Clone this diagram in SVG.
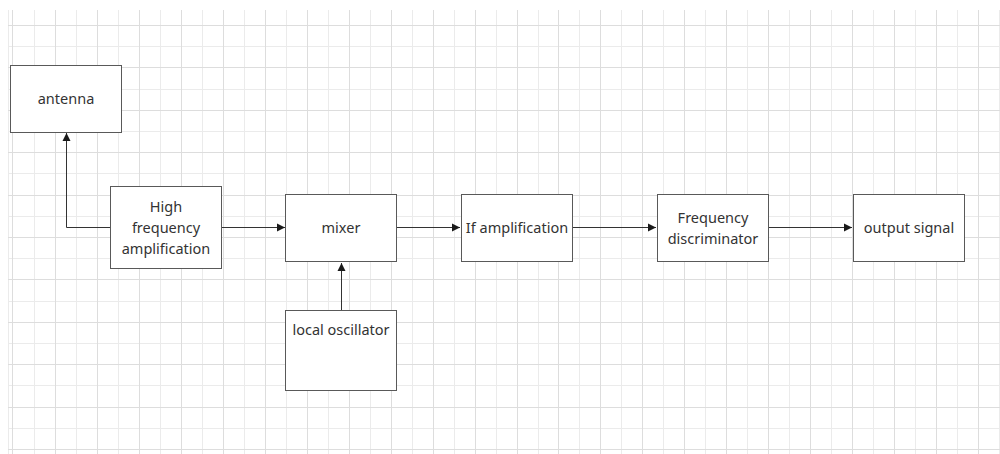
<svg xmlns="http://www.w3.org/2000/svg" width="1000" height="454" viewBox="0 0 1000 454">
<style>
.gl{stroke:#ebebeb;stroke-width:1;fill:none}
.gd{stroke:#dddddd;stroke-width:1;fill:none}
.box{fill:#ffffff;stroke:#595959;stroke-width:1}
.t{font-family:"Noto Sans","Open Sans","DejaVu Sans",sans-serif;font-size:14.5px;fill:#333333;text-anchor:middle}
.c{stroke:#333333;stroke-width:1;fill:none}
</style>
<defs>
<marker id="arr" markerWidth="10" markerHeight="10" refX="9" refY="5" orient="auto" markerUnits="userSpaceOnUse">
<path d="M1,1 L9,5 L1,9 Z" fill="#1a1a1a"/>
</marker>
</defs>
<rect width="1000" height="454" fill="#ffffff"/>
<g id="grid">
<path class="gl" d="M8.5,10V454 M34.5,10V454 M76.5,10V454 M118.5,10V454 M160.5,10V454 M202.5,10V454 M244.5,10V454 M286.5,10V454 M328.5,10V454 M370.5,10V454 M412.5,10V454 M454.5,10V454 M496.5,10V454 M538.5,10V454 M579.5,10V454 M621.5,10V454 M663.5,10V454 M705.5,10V454 M747.5,10V454 M789.5,10V454 M831.5,10V454 M873.5,10V454 M915.5,10V454 M957.5,10V454 M999.5,10V454 M8,46.5H1000 M8,89.5H1000 M8,131.5H1000 M8,173.5H1000 M8,216.5H1000 M8,258.5H1000 M8,301.5H1000 M8,343.5H1000 M8,385.5H1000 M8,428.5H1000"/>
<path class="gd" d="M12.5,10V454 M55.5,10V454 M97.5,10V454 M139.5,10V454 M181.5,10V454 M223.5,10V454 M265.5,10V454 M307.5,10V454 M349.5,10V454 M391.5,10V454 M433.5,10V454 M475.5,10V454 M517.5,10V454 M558.5,10V454 M600.5,10V454 M642.5,10V454 M684.5,10V454 M726.5,10V454 M768.5,10V454 M810.5,10V454 M852.5,10V454 M894.5,10V454 M936.5,10V454 M978.5,10V454 M8,25.5H1000 M8,67.5H1000 M8,110.5H1000 M8,152.5H1000 M8,195.5H1000 M8,237.5H1000 M8,279.5H1000 M8,322.5H1000 M8,364.5H1000 M8,407.5H1000 M8,449.5H1000"/>
</g>
<g id="connectors">
<path class="c" d="M110,227.5 H66.5 V133" marker-end="url(#arr)"/>
<path class="c" d="M221,227.5 H285" marker-end="url(#arr)"/>
<path class="c" d="M397,227.5 H460" marker-end="url(#arr)"/>
<path class="c" d="M341.5,310 V263" marker-end="url(#arr)"/>
<path class="c" d="M572,227.5 H656" marker-end="url(#arr)"/>
<path class="c" d="M768,227.5 H852" marker-end="url(#arr)"/>
</g>
<g id="antenna">
<rect class="box" x="10.5" y="65.5" width="111" height="67"/>
<text class="t" x="66" y="104">antenna</text>
</g>
<g id="high-frequency-amplification">
<rect class="box" x="110.5" y="186.5" width="111" height="82"/>
<text class="t" x="166" y="212">High</text>
<text class="t" x="166" y="233">frequency</text>
<text class="t" x="166" y="254">amplification</text>
</g>
<g id="mixer">
<rect class="box" x="285.5" y="194.5" width="111" height="67"/>
<text class="t" x="341" y="233">mixer</text>
</g>
<g id="local-oscillator">
<rect class="box" x="285.5" y="310.5" width="111" height="80"/>
<text class="t" x="341" y="335">local oscillator</text>
</g>
<g id="if-amplification">
<rect class="box" x="461.5" y="194.5" width="111" height="67"/>
<text class="t" x="517" y="233">If amplification</text>
</g>
<g id="frequency-discriminator">
<rect class="box" x="657.5" y="194.5" width="111" height="67"/>
<text class="t" x="713" y="223">Frequency</text>
<text class="t" x="713" y="244">discriminator</text>
</g>
<g id="output-signal">
<rect class="box" x="853.5" y="194.5" width="111" height="67"/>
<text class="t" x="909" y="233">output signal</text>
</g>
</svg>
